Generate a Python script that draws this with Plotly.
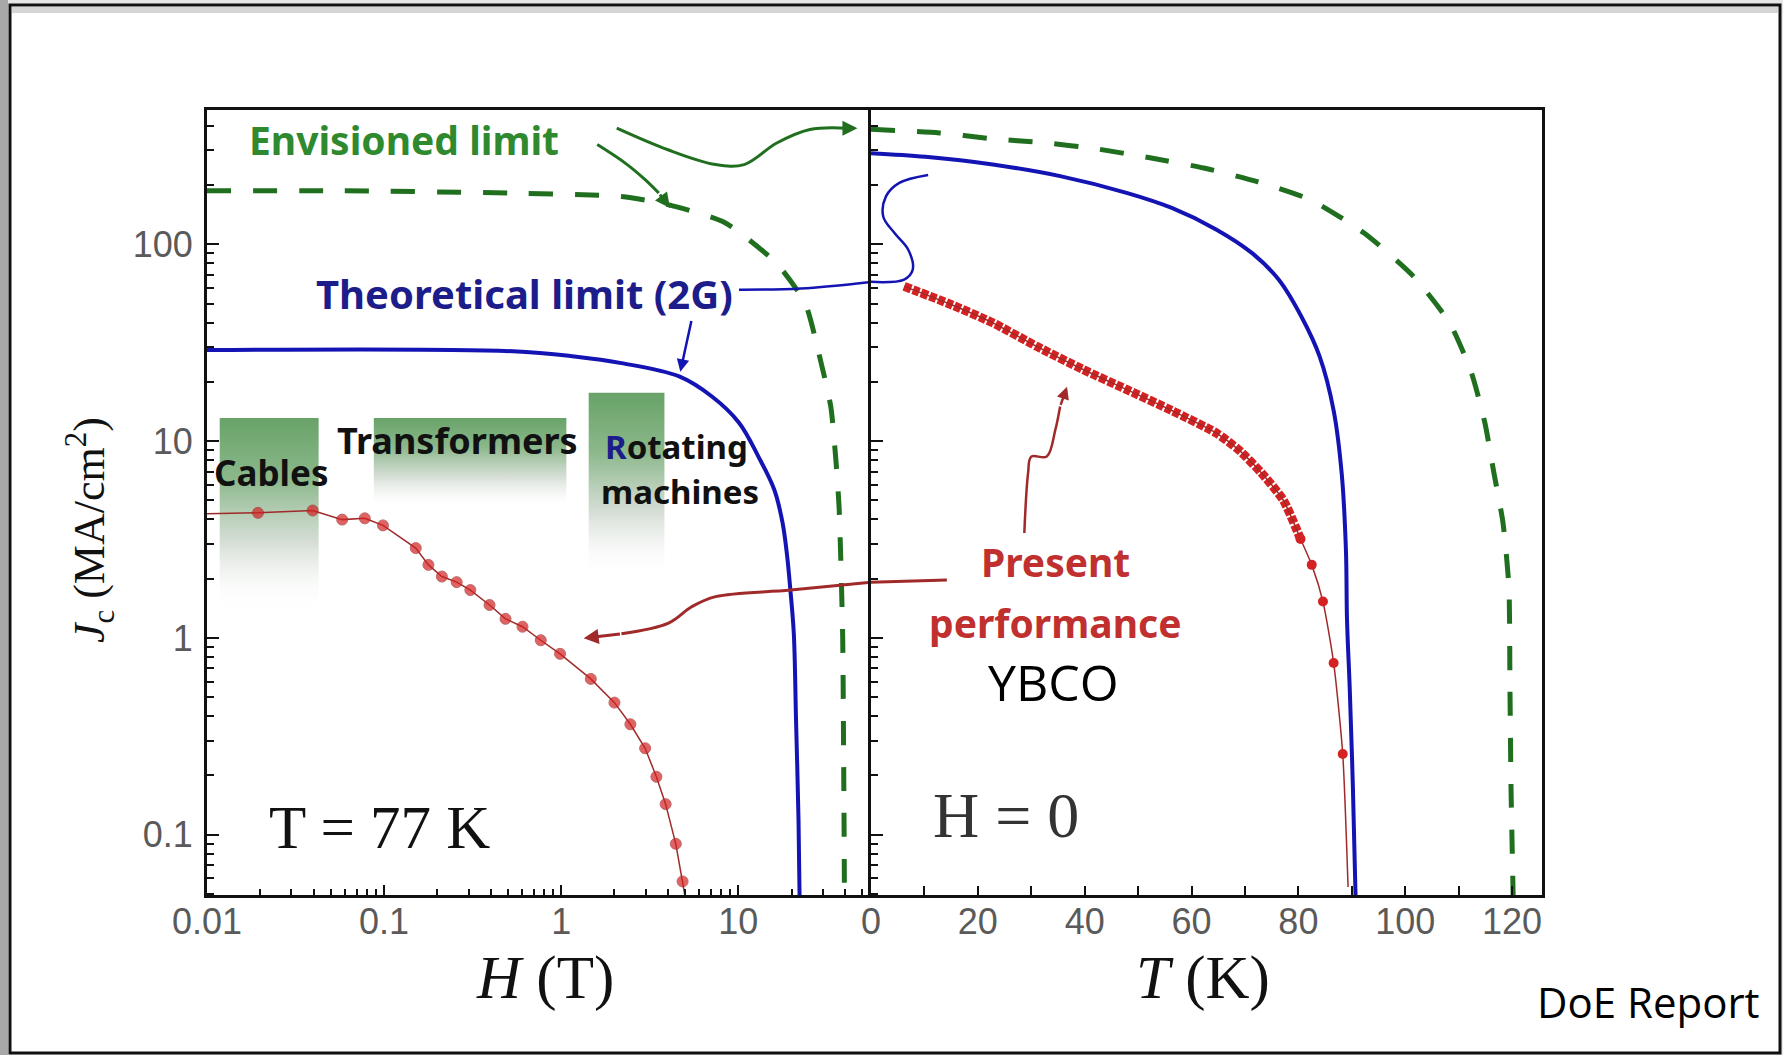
import numpy as np
import plotly.graph_objects as go

# ---------------- data ----------------
# Left panel: Jc (MA/cm^2) versus H (T) at T = 77 K
H_envisioned = [0.01, 0.057, 0.52, 2.19, 4.01, 8.38, 16.5, 23.9, 28.5, 33.3, 35.6, 37.1, 37.9, 38.9, 39.5, 39.8]
J_envisioned_H = [187, 187, 182, 175, 159, 129, 79.8, 50.0, 28.0, 15.0, 8.0, 4.65, 2.59, 1.0, 0.157, 0.049]

H_theoretical = [0.01, 0.535, 1.19, 2.19, 4.64, 7.13, 10.1, 13.0, 16.0, 17.8, 18.9, 19.7, 20.6, 21.2, 21.9, 22.2]
J_theoretical_H = [29.0, 28.6, 26.9, 24.9, 21.3, 16.8, 12.4, 8.34, 5.64, 3.84, 2.59, 1.75, 1.05, 0.384, 0.119, 0.049]

H_present = [0.01, 0.0194, 0.0395, 0.0580, 0.0778, 0.0986, 0.151, 0.178, 0.212, 0.257, 0.307, 0.394,
             0.485, 0.605, 0.767, 0.986, 1.47, 2.00, 2.46, 2.98, 3.45, 3.89, 4.44, 4.85, 5.0]
J_present_H = [4.27, 4.32, 4.44, 3.99, 4.05, 3.73, 2.86, 2.35, 2.05, 1.92, 1.75, 1.47,
               1.25, 1.14, 0.973, 0.830, 0.619, 0.469, 0.364, 0.275, 0.197, 0.143, 0.0899, 0.0579, 0.049]

# Right panel: Jc (MA/cm^2) versus T (K) at H = 0
T_envisioned = [0, 12.8, 22.0, 32.8, 42.0, 52.2, 62.3, 72.3, 82.3, 92.3, 101.5, 108.3, 112.4, 114.9,
                116.6, 118.3, 119.4, 119.6, 119.8, 120.2]
J_envisioned_T = [384, 368, 345, 327, 306, 275, 244, 208, 168, 114, 68.9, 39.9, 22.2, 12.4,
                  6.88, 3.84, 1.82, 0.564, 0.175, 0.049]

T_theoretical = [0, 10.2, 22.8, 35.4, 48.0, 56.3, 64.6, 71.4, 76.3, 80.6, 84.0, 86.6, 88.1, 88.9,
                 89.1, 89.6, 90.2, 90.7]
J_theoretical_T = [290, 278, 254, 222, 182, 153, 119, 89.9, 66.2, 42.7, 26.8, 14.3, 6.88, 2.79,
                   1.24, 0.564, 0.175, 0.049]

T_present = [6.2, 14.5, 22.8, 31.1, 39.7, 48.0, 56.3, 64.6, 68.9, 73.1, 77.2, 80.4, 82.5, 84.6, 86.6, 88.3, 89.3]
J_present_T = [61.1, 50.0, 39.9, 30.2, 23.1, 18.2, 14.3, 11.0, 8.99, 6.88, 5.00, 3.18, 2.35, 1.53, 0.746, 0.257, 0.0542]
n_dense = 12          # points of the densely sampled part of the T curve
sparse_marks = [11, 12, 13, 14, 15]

# Application windows (H range and Jc range)
app_names = ["Cables", "Transformers", "Rotating machines"]
app_H_lo = [0.0118, 0.0875, 1.43]
app_H_hi = [0.0427, 1.07, 3.83]
app_J_top = [13.1, 13.1, 17.6]
app_J_bottom = [1.34, 4.47, 1.97]

# Hand-drawn pointer paths
gA_H = [2.06, 4.01, 7.45, 10.8, 16.5, 25.4, 41.2]
gA_J = [389, 302, 254, 254, 327, 383, 389]
gA_head = (47.1, 389)
gB_H = [1.60, 2.32, 2.98, 3.56]
gB_J = [321, 257, 213, 182]
gB_head = (4.12, 153)

bA_H = [10.1, 22.5, 56.2]
bA_J = [58.8, 59.6, 64.4]
bA_T = [0, 6.2, 7.8, 7.0, 4.4, 2.3, 2.8, 5.3, 10.7]
bA_JT = [64.4, 66.2, 74.1, 93.5, 114, 138, 175, 205, 225]
bB_tail = (5.46, 41.5)
bB_head = (4.71, 22.5)

rA_H = [2.19, 4.04, 5.46, 7.45, 19.8, 56.2]
rA_J = [1.05, 1.19, 1.44, 1.62, 1.75, 1.92]
rA_T = [0, 14.2]
rA_JT = [1.92, 1.97]
rA_head = (1.34, 0.995)
rB_T = [28.7, 29.4, 30.0, 32.9, 34.5, 35.4]
rB_J = [3.41, 6.88, 8.34, 8.34, 11.4, 15.0]
rB_head = (36.7, 18.9)

# Ticks
H_ticks = [0.01, 0.1, 1, 10]
H_ticklabels = ["0.01", "0.1", "1", "10"]
J_ticks = [0.1, 1, 10, 100]
J_ticklabels = ["0.1", "1", "10", "100"]
T_ticks = list(range(0, 121, 10))
T_ticklabels = [str(t) if t % 20 == 0 else "" for t in T_ticks]

# ---------------- styling ----------------
W, H = 1783, 1055
ML, MR, MT, MB = 207, 241, 110, 160
PW, PH = W - ML - MR, H - MT - MB
SPLIT = (871 - ML) / PW

GREEN = "#1f6f1f"
GREEN_TXT = "#2f8a2f"
BLUE = "#1414b4"
NAVY = "#1c1c8a"
RED = "#d42222"
DARKRED = "#a02a2a"
COMIC = "Noto Sans, DejaVu Sans, sans-serif"
SERIF = "Liberation Serif, Times New Roman, serif"
SANS = "Liberation Sans, Arial, sans-serif"


def px2x(px):
    return (px - ML) / PW


def py2y(py):
    return (H - MB - py) / PH


fig = go.Figure()

# application windows with vertical fade
for lo, hi, top, bot in zip(app_H_lo, app_H_hi, app_J_top, app_J_bottom):
    fig.add_trace(go.Scatter(
        x=[lo, hi, hi, lo, lo], y=[bot, bot, top, top, bot],
        mode="lines", line=dict(width=0), fill="toself",
        fillgradient=dict(type="vertical", colorscale=[
            [0, "rgba(255,255,255,0)"], [0.35, "rgba(212,220,212,0.9)"],
            [0.68, "rgb(140,184,140)"], [1, "rgb(104,163,104)"]]),
        xaxis="x", yaxis="y", hoverinfo="skip", showlegend=False))

common = dict(hoverinfo="skip", showlegend=False)
# left panel curves
fig.add_trace(go.Scatter(x=H_envisioned, y=J_envisioned_H, mode="lines",
                         line=dict(color=GREEN, width=5, dash="24px,22px", shape="spline", smoothing=0.6),
                         xaxis="x", yaxis="y", **common))
fig.add_trace(go.Scatter(x=H_theoretical, y=J_theoretical_H, mode="lines",
                         line=dict(color=BLUE, width=4, shape="spline", smoothing=1.0),
                         xaxis="x", yaxis="y", **common))
msize = [0] + [11] * (len(H_present) - 2) + [0]
fig.add_trace(go.Scatter(x=H_present, y=J_present_H, mode="lines+markers",
                         line=dict(color=DARKRED, width=1.5),
                         marker=dict(color=RED, size=msize),
                         xaxis="x", yaxis="y", **common))

# right panel curves
fig.add_trace(go.Scatter(x=T_envisioned, y=J_envisioned_T, mode="lines",
                         line=dict(color=GREEN, width=5, dash="24px,22px", shape="spline", smoothing=0.6),
                         xaxis="x2", yaxis="y2", **common))
fig.add_trace(go.Scatter(x=T_theoretical, y=J_theoretical_T, mode="lines",
                         line=dict(color=BLUE, width=4, shape="spline", smoothing=1.0),
                         xaxis="x2", yaxis="y2", **common))
fig.add_trace(go.Scatter(x=T_present[:n_dense], y=J_present_T[:n_dense], mode="lines",
                         line=dict(color=RED, width=9, dash="7px,2px", shape="spline", smoothing=0.6),
                         xaxis="x2", yaxis="y2", **common))
fig.add_trace(go.Scatter(x=T_present, y=J_present_T, mode="lines",
                         line=dict(color=DARKRED, width=1.5, shape="spline", smoothing=0.6),
                         xaxis="x2", yaxis="y2", **common))
fig.add_trace(go.Scatter(x=[T_present[i] for i in sparse_marks], y=[J_present_T[i] for i in sparse_marks],
                         mode="markers", marker=dict(color=RED, size=10),
                         xaxis="x2", yaxis="y2", **common))

# pointer paths
fig.add_trace(go.Scatter(x=gA_H, y=gA_J, mode="lines", line=dict(color=GREEN, width=3, shape="spline"),
                         xaxis="x", yaxis="y", **common))
fig.add_trace(go.Scatter(x=gB_H, y=gB_J, mode="lines", line=dict(color=GREEN, width=3, shape="spline"),
                         xaxis="x", yaxis="y", **common))
fig.add_trace(go.Scatter(x=bA_H, y=bA_J, mode="lines", line=dict(color=BLUE, width=2.5, shape="spline"),
                         xaxis="x", yaxis="y", **common))
fig.add_trace(go.Scatter(x=bA_T, y=bA_JT, mode="lines", line=dict(color=BLUE, width=2.5, shape="spline"),
                         xaxis="x2", yaxis="y2", **common))
fig.add_trace(go.Scatter(x=rA_H, y=rA_J, mode="lines", line=dict(color=DARKRED, width=3, shape="spline"),
                         xaxis="x", yaxis="y", **common))
fig.add_trace(go.Scatter(x=rA_T, y=rA_JT, mode="lines", line=dict(color=DARKRED, width=3, shape="spline"),
                         xaxis="x2", yaxis="y2", **common))
fig.add_trace(go.Scatter(x=rB_T, y=rB_J, mode="lines", line=dict(color=DARKRED, width=2.5, shape="spline"),
                         xaxis="x2", yaxis="y2", **common))

ann = []


def head(tip, tail, color, width, xr="x", yr="y", logx=True):
    lx = (lambda v: np.log10(v)) if logx else (lambda v: v)
    ann.append(dict(x=lx(tip[0]), y=np.log10(tip[1]), ax=lx(tail[0]), ay=np.log10(tail[1]),
                    xref=xr, yref=yr, axref=xr, ayref=yr, text="", showarrow=True,
                    arrowhead=2, arrowsize=1, arrowwidth=width, arrowcolor=color))


head(gA_head, (gA_H[-1], gA_J[-1]), GREEN, 3)
head(gB_head, (gB_H[-1], gB_J[-1]), GREEN, 3)
head(bB_head, bB_tail, BLUE, 2.5)
head(rA_head, (rA_H[0], rA_J[0]), DARKRED, 3)
head(rB_head, (rB_T[-1], rB_J[-1]), DARKRED, 2.5, "x2", "y2", logx=False)


def label(text, px, py, size, color="#111", family=COMIC, angle=0):
    ann.append(dict(text=text, x=px2x(px), y=py2y(py), xref="paper", yref="paper",
                    showarrow=False, xanchor="center", yanchor="middle", textangle=angle,
                    font=dict(family=family, size=size, color=color)))


label("<b>Envisioned limit</b>", 404, 139, 39, GREEN_TXT)
label("<b>Theoretical limit (2G)</b>", 524, 293, 40, NAVY)
label("<b>Cables</b>", 271, 472, 35, "#111")
label("<b>Transformers</b>", 457, 440, 36, "#111")
label("<b><span style='color:%s'>R</span>otating</b>" % NAVY, 676, 446, 33, "#111")
label("<b>machines</b>", 680, 491, 33, "#111")
label("<b>Present</b>", 1055, 561, 39, "#c0302f")
label("<b>performance</b>", 1055, 622, 39, "#c0302f")
label("YBCO", 1053, 682, 50, "#000", "Open Sans, Liberation Sans, sans-serif")
label("T = 77 K", 379, 827, 61, "#111", SERIF)
label("H = 0", 1006, 815, 64, "#333", SERIF)
label("DoE Report", 1648, 1001, 42, "#000", "Open Sans, Liberation Sans, sans-serif")
label("<i>H</i> (T)", 545, 978, 61, "#111", SERIF)
label("<i>T</i> (K)", 1203, 978, 61, "#111", SERIF)
label("<i>J</i><sub>c</sub> (MA/cm<sup>2</sup>)", 90, 530, 44, "#111", SERIF, -90)

# frame of the slide
shapes = [
    dict(type="rect", xref="paper", yref="paper", x0=px2x(10), x1=px2x(1780), y0=py2y(1053), y1=py2y(5),
         line=dict(color="#111", width=3), fillcolor="white", layer="below"),
    dict(type="rect", xref="paper", yref="paper", x0=px2x(0), x1=px2x(8), y0=py2y(1055), y1=py2y(0),
         line=dict(width=0), fillcolor="#a8a8a8", layer="below"),
    dict(type="rect", xref="paper", yref="paper", x0=px2x(12), x1=px2x(1778), y0=py2y(13), y1=py2y(7),
         line=dict(width=0), fillcolor="#d6d6d6", layer="below"),
]

tickfont = dict(family=SANS, size=36, color="#5a5a5a")
axbase = dict(showline=True, linecolor="#111", linewidth=3, showgrid=False, zeroline=False,
              ticks="inside", tickcolor="#111", tickwidth=2, tickfont=tickfont)

J_minor = [m * 10.0 ** e for e in range(-2, 3) for m in range(2, 10) if 0.049 <= m * 10.0 ** e <= 481]
H_minor = [m * 10.0 ** e for e in range(-2, 2) for m in range(2, 10) if m * 10.0 ** e <= 56]
J_range = [np.log10(0.0494), np.log10(481)]

fig.update_layout(
    width=W, height=H, autosize=False,
    margin=dict(l=ML, r=MR, t=MT, b=MB, pad=0),
    paper_bgcolor="#e6e6e6", plot_bgcolor="rgba(0,0,0,0)",
    showlegend=False,
    xaxis=dict(type="log", range=[-2, np.log10(56.2)], domain=[0, SPLIT], anchor="y", mirror=True,
               tickvals=H_ticks, ticktext=H_ticklabels, ticklen=10, ticklabelstandoff=-7,
               minor=dict(tickvals=H_minor, ticks="inside", ticklen=6, tickwidth=1.5, tickcolor="#111"),
               **axbase),
    yaxis=dict(type="log", range=J_range, domain=[0, 1], anchor="x", mirror=False,
               tickvals=J_ticks, ticktext=J_ticklabels, ticklen=12, ticklabelstandoff=4,
               minor=dict(tickvals=J_minor, ticks="inside", ticklen=7, tickwidth=1.5, tickcolor="#111"),
               **axbase),
    xaxis2=dict(range=[0, 125.6], domain=[SPLIT, 1], anchor="y2", mirror=True,
                tickvals=T_ticks, ticktext=T_ticklabels, ticklen=9, ticklabelstandoff=-7,
                **axbase),
    yaxis2=dict(type="log", range=J_range, domain=[0, 1], anchor="x2", mirror=True,
                tickvals=J_ticks, ticklen=12, showticklabels=False,
                minor=dict(tickvals=J_minor, ticks="inside", ticklen=7, tickwidth=1.5, tickcolor="#111"),
                **axbase),
    annotations=ann,
    shapes=shapes,
)

fig.write_html("out.html", config={"displayModeBar": False},
               post_script="document.body.style.margin='0px';document.body.style.overflow='hidden';")
